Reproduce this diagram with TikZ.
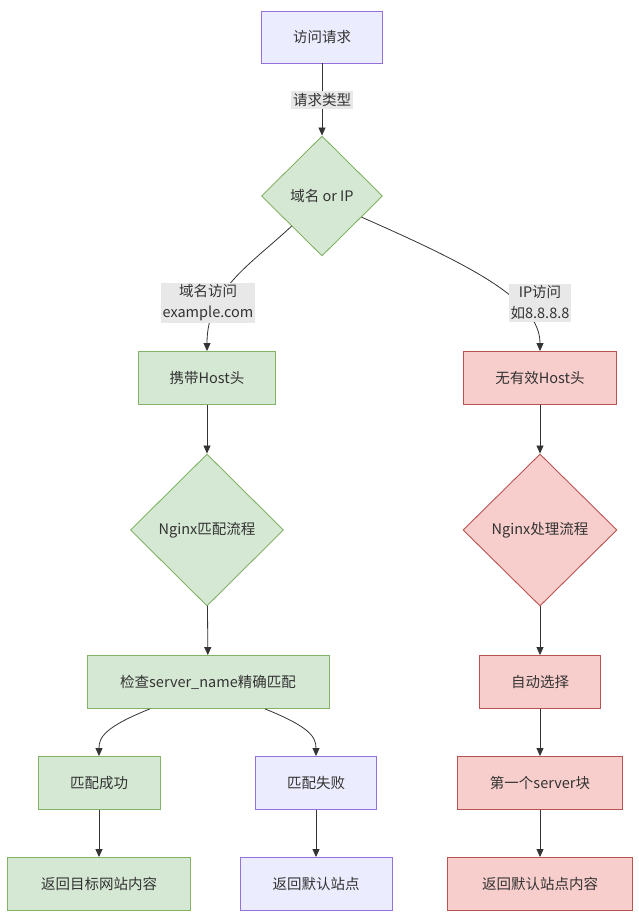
\documentclass[tikz,border=0pt]{standalone}
\usepackage{fontspec}
\setmainfont{Noto Sans CJK SC}
\usetikzlibrary{shapes.geometric,arrows.meta,calc}
\definecolor{pfill}{HTML}{ECECFF}
\definecolor{pline}{HTML}{9370DB}
\definecolor{gfill}{HTML}{D5E8D4}
\definecolor{gline}{HTML}{82B366}
\definecolor{rfill}{HTML}{F8CECC}
\definecolor{rline}{HTML}{B85450}
\definecolor{lbl}{HTML}{E8E8E8}
\definecolor{edge}{HTML}{333333}
\tikzset{
  base/.style={font=\fontsize{14.5}{18}\selectfont, text=edge, line width=0.9pt, inner sep=0pt},
  pbox/.style={base, draw=pline, fill=pfill, rectangle},
  gbox/.style={base, draw=gline, fill=gfill, rectangle},
  rbox/.style={base, draw=rline, fill=rfill, rectangle},
  gdia/.style={base, draw=gline, fill=gfill, diamond, aspect=1},
  rdia/.style={base, draw=rline, fill=rfill, diamond, aspect=1},
  elabel/.style={font=\fontsize{14.5}{21}\selectfont, text=edge, fill=lbl, inner sep=2pt, align=center},
  conn/.style={draw=edge, line width=0.8pt, -{Triangle[length=8pt,width=7pt]}},
}
\begin{document}
\begin{tikzpicture}[x=1pt,y=-1pt]
\useasboundingbox (0,0) rectangle (639,923);
\fill[white] (0,0) rectangle (639,923);

\node[pbox, minimum width=121pt, minimum height=52pt] (req) at (322,37) {访问请求};
\node[gdia, minimum width=121pt, minimum height=120pt] (d1) at (322,196) {域名 or IP};
\node[gbox, minimum width=137pt, minimum height=53pt] (host) at (207,378) {携带Host头};
\node[rbox, minimum width=153pt, minimum height=53pt] (nohost) at (540,378) {无有效Host头};
\node[gdia, minimum width=153pt, minimum height=152pt] (d2) at (207,530) {Nginx匹配流程};
\node[rdia, minimum width=154pt, minimum height=152pt] (d3) at (540,530) {Nginx处理流程};
\node[gbox, minimum width=242pt, minimum height=53pt] (chk) at (208,682) {检查server\_name精确匹配};
\node[rbox, minimum width=121pt, minimum height=53pt] (auto) at (540,682) {自动选择};
\node[gbox, minimum width=122pt, minimum height=53pt] (ok) at (99,783) {匹配成功};
\node[pbox, minimum width=121pt, minimum height=53pt] (fail) at (316,783) {匹配失败};
\node[rbox, minimum width=165pt, minimum height=53pt] (first) at (540,783) {第一个server块};
\node[gbox, minimum width=183pt, minimum height=53pt] (ret1) at (99,884) {返回目标网站内容};
\node[pbox, minimum width=152pt, minimum height=53pt] (ret2) at (316,884) {返回默认站点};
\node[rbox, minimum width=185pt, minimum height=53pt] (ret3) at (540,884) {返回默认站点内容};

\coordinate (d1l) at (d1.south west);
\coordinate (d1r) at ($(d1.east)!0.35!(d1.south)$);
\coordinate (chkl) at ($(chk.south west)!0.26!(chk.south east)$);
\coordinate (chkr) at ($(chk.south west)!0.735!(chk.south east)$);

\draw[conn] (req) -- (d1);
\draw[conn] (d1l) .. controls (250,265) and (207,290) .. (host.north);
\draw[conn] (d1r) .. controls (470,265) and (540,300) .. (nohost.north);
\draw[conn] (host) -- (d2);
\draw[conn] (nohost) -- (d3);
\draw[conn] (d2) -- (chk);
\draw[conn] (d3) -- (auto);
\draw[conn] (chkl) .. controls (105,727) and (99,737) .. (ok.north);
\draw[conn] (chkr) .. controls (310,727) and (316,737) .. (fail.north);
\draw[conn] (auto) -- (first);
\draw[conn] (ok) -- (ret1);
\draw[conn] (fail) -- (ret2);
\draw[conn] (first) -- (ret3);

\node[elabel] (l1) at (322,100) {请求类型};
\node[elabel] (l2) at (208,303) {域名访问\\example.com};
\node[elabel] (l3) at (540,303) {IP访问\\如8.8.8.8};
\end{tikzpicture}
\end{document}
